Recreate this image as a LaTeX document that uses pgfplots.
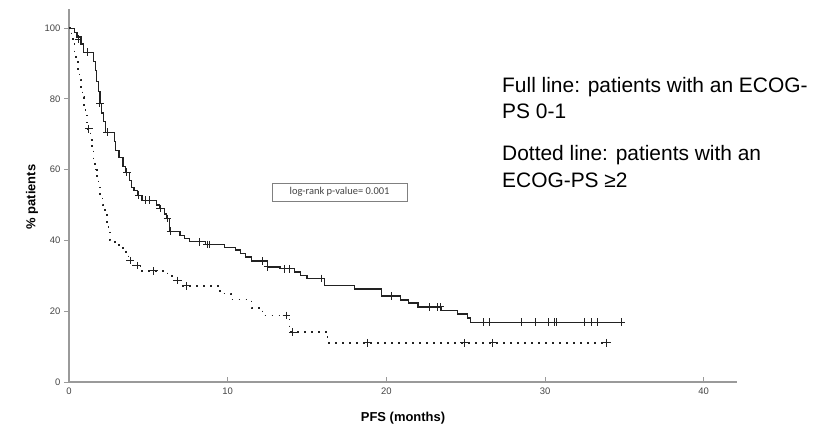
\documentclass[border=0pt]{standalone}
\usepackage{fontspec}
\setmainfont{Liberation Sans}
\newfontfamily\calibri{Carlito}
\usepackage{pgfplots}
\pgfplotsset{compat=1.18}

\definecolor{axisgray}{HTML}{9A9A9A}
\definecolor{ticktext}{HTML}{444444}
\definecolor{curve}{HTML}{222222}

% Kaplan-Meier step data: PFS in months, % of patients still progression-free
\pgfplotstableread{
t    s
0    100
0.35 98.8
0.5  97.5
0.75 95.5
0.9  93.2
1.55 90.5
1.65 88
1.75 85
1.85 82
1.95 78.8
2.05 76
2.15 73.5
2.3  70.6
2.85 68
2.95 65.5
3.15 63.5
3.4  61
3.55 59.3
3.8  57
3.95 55
4.1  54
4.3  52.8
4.6  51.4
5.5  50
5.7  49
6.0  47.5
6.15 46.2
6.35 42.6
7.0  41.5
7.3  40.5
7.6  39.6
8.6  38.9
9.8  38.1
10.5 37.3
10.8 36.4
11.1 35.3
11.5 34.2
12.5 32.5
13.3 32.0
14.2 31.1
14.6 30.2
15.0 29.3
16.1 27.2
18.0 26.3
19.7 24.3
20.9 23.2
21.4 22.3
22.0 21.2
23.5 20.1
24.5 19.2
25.1 18.1
25.3 16.9
34.8 16.9
}\goodps

\pgfplotstableread{
t    s
0.6  96.9
1.15 93.2
1.95 78.8
2.4  70.6
3.65 59.3
4.4  52.8
4.8  51.4
5.1  51.4
5.75 49
6.2  46.2
6.4  42.6
8.25 39.6
8.7  38.9
8.85 38.9
12.2 34.2
12.5 32.5
13.6 32.0
13.9 32.0
15.9 29.3
20.3 24.3
22.7 21.2
23.2 21.2
23.4 21.2
26.1 16.9
26.5 16.9
28.5 16.9
29.4 16.9
30.2 16.9
30.6 16.9
30.7 16.9
32.5 16.9
32.9 16.9
33.3 16.9
34.8 16.9
}\goodpscens

\pgfplotstableread{
t    s
0    100
0.05 98.9
0.15 97.5
0.25 95.5
0.35 93
0.45 90.5
0.55 88
0.65 85.5
0.75 83
0.85 80.5
0.95 78
1.05 75.5
1.15 73
1.2  71.5
1.35 68.5
1.45 65.5
1.55 62.5
1.65 60
1.75 57.5
1.85 55
1.95 52.5
2.1  50
2.25 47.5
2.4  45
2.5  42.5
2.6  40
2.9  38.7
3.4  37.3
3.6  35.9
3.75 34.3
4.05 32.9
4.5  31.4
6.2  30
6.6  28.7
7.1  27.2
9.5  25.0
10.2 23.3
11.5 20.9
12.2 18.8
13.9 14.1
16.3 11.1
33.9 11.1
}\poorps

\pgfplotstableread{
t    s
1.25 71.5
3.85 34.3
4.3  32.9
5.35 31.4
6.85 28.7
7.4  27.2
13.7 18.8
14.1 14.1
18.8 11.1
24.9 11.1
26.7 11.1
33.9 11.1
}\poorpscens

\begin{document}
\begin{tikzpicture}[x=1bp,y=1bp]
\useasboundingbox (0,0) rectangle (830,428);
\begin{axis}[
  at={(69bp,46bp)}, anchor=origin,
  scale only axis, width=668bp, height=373bp,
  xmin=0, xmax=42.1, ymin=0, ymax=105.4,
  axis x line=bottom, axis y line=left,
  axis line style={axisgray, line width=1.4bp, -},
  xtick={0,10,...,40}, ytick={0,20,...,100},
  xtick align=inside, ytick align=outside,
  major tick length=5bp,
  tick style={axisgray, line width=0.8bp},
  tick label style={font=\fontsize{9.5}{11}\selectfont, text=ticktext},
  /pgf/number format/assume math mode=true,
  xticklabel style={yshift=-2bp},
  xlabel={\textbf{PFS (months)}},
  ylabel={\textbf{\% patients}},
  label style={font=\fontsize{13}{15}\selectfont},
  xlabel style={at={(axis description cs:0.5,-0.0965)}, anchor=center},
  ylabel style={at={(axis description cs:-0.0554,0.496)}, anchor=center},
  clip=false,
]
% ECOG-PS 0-1: solid step curve with censoring ticks
\addplot[const plot, curve, line width=1.2bp] table[x=t, y=s] {\goodps};
\addplot[only marks, mark=+, mark size=3.8bp, curve, mark options={line width=1bp}] table[x=t, y=s] {\goodpscens};
% ECOG-PS >=2: dotted step curve with censoring ticks
\addplot[const plot, curve, line width=1.6bp, dash pattern=on 1.6bp off 5.4bp] table[x=t, y=s] {\poorps};
\addplot[only marks, mark=+, mark size=3.8bp, curve, mark options={line width=1bp, solid}] table[x=t, y=s] {\poorpscens};

\node[draw=gray, line width=0.8bp, fill=white, minimum width=135bp, minimum height=18bp,
      inner sep=0pt, font=\calibri\fontsize{10.5}{12}\selectfont, text=ticktext]
  at (axis cs:17.05,53.7) {log-rank p-value= 0.001};
\end{axis}

\begin{scope}[every node/.style={anchor=base west, inner sep=0pt, font=\fontsize{21}{25}\selectfont}]
\node at (502,336) {Full line: patients with an ECOG-};
\node at (502,310) {PS 0-1};
\node at (502,268) {Dotted line: patients with an};
\node at (502,241) {ECOG-PS ≥2};
\end{scope}
\end{tikzpicture}
\end{document}
